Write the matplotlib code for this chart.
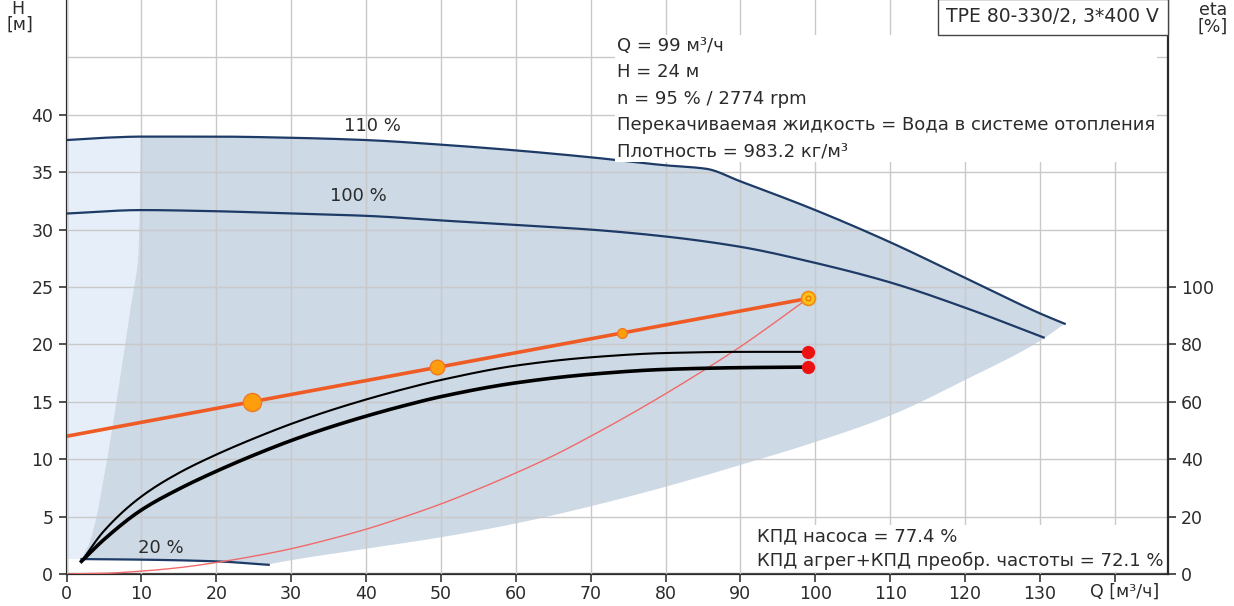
import matplotlib
matplotlib.use("Agg")
import matplotlib.pyplot as plt
import numpy as np

plt.rcParams['font.family'] = ['DejaVu Sans']

# ---- pump curve data: flow Q [m³/h], head H [m] ----
q_110 = [0, 5, 10, 20, 30, 40, 50, 60, 70, 80, 85.4, 90, 100, 110, 120, 130, 133.3]
h_110 = [37.8, 38.0, 38.1, 38.1, 38.0, 37.8, 37.4, 36.9, 36.3, 35.6, 35.3, 34.2, 31.7, 28.9, 25.8, 22.7, 21.8]

q_100 = [0, 10, 20, 30, 40, 50, 60, 70, 80, 90, 100, 110, 120, 130.5]
h_100 = [31.4, 31.7, 31.6, 31.4, 31.2, 30.8, 30.4, 30.0, 29.4, 28.5, 27.1, 25.4, 23.2, 20.6]

q_20 = [2, 10, 20, 27]
h_20 = [1.3, 1.25, 1.1, 0.8]

# operating range limits
q_minflow = [2, 3.2, 5, 6.7, 8.5, 9.6, 9.9]
h_minflow = [1.3, 3.0, 8.5, 15.2, 23.0, 28.0, 38.1]
q_lower = [27, 30, 40, 50, 60, 70, 80, 90, 100, 110, 120, 130, 133.3]
h_lower = [0.85, 1.2, 2.2, 3.2, 4.4, 5.9, 7.6, 9.5, 11.5, 13.8, 16.9, 20.3, 21.8]

# proportional-pressure control curve
q_ctrl = [0, 99]
h_ctrl = [12, 24]
q_ctrl_pts = [24.75, 49.5, 74.25]
h_ctrl_pts = [15, 18, 21]
ctrl_pt_sizes = [13, 10.5, 7]

# duty point
q_duty = 99
h_duty = 24

# system curve
q_sys = [0, 5, 10, 15, 20, 25, 30, 35, 40, 45, 50, 55, 60, 65, 70, 75, 80, 85, 90, 95, 99]
h_sys = [0, 0.06, 0.25, 0.55, 1.0, 1.55, 2.2, 3.0, 3.9, 4.95, 6.1, 7.4, 8.8, 10.3, 12.0,
         13.8, 15.7, 17.7, 19.8, 22.1, 24.0]

# efficiencies [%]
q_eta = [2, 5, 10, 15, 20, 25, 30, 35, 40, 45, 50, 60, 70, 80, 90, 99]
eta_pump = [4.4, 15, 27, 35.2, 41.6, 47.2, 52.3, 56.8, 60.8, 64.4, 67.6, 72.6, 75.5, 77.0, 77.4, 77.4]
eta_total = [4.4, 12, 22.3, 29.6, 35.8, 41.4, 46.5, 51.0, 55.0, 58.6, 61.8, 66.6, 69.6, 71.3, 71.9, 72.1]
eta_pump_duty = 77.4
eta_total_duty = 72.1

x_ticks = list(range(0, 150, 10))
x_ticklabels = [str(v) for v in range(0, 140, 10)] + [""]
h_ticks = list(range(0, 45, 5))
eta_ticks = [0, 20, 40, 60, 80, 100]

info_lines = [
    "Q = 99 м³/ч",
    "H = 24 м",
    "n = 95 % / 2774 rpm",
    "Перекачиваемая жидкость = Вода в системе отопления",
    "Плотность = 983.2 кг/м³",
]
eff_lines = [
    "КПД насоса = 77.4 %",
    "КПД агрег+КПД преобр. частоты = 72.1 %",
]
title_text = "TPE 80-330/2, 3*400 V"


def pchip(x, y, n=200):
    """Monotone cubic through the given points, sampled densely for drawing."""
    x = np.asarray(x, float)
    y = np.asarray(y, float)
    h = np.diff(x)
    delta = np.diff(y) / h
    d = np.zeros_like(y)
    d[0], d[-1] = delta[0], delta[-1]
    for k in range(1, len(x) - 1):
        if delta[k - 1] * delta[k] > 0:
            w1 = 2 * h[k] + h[k - 1]
            w2 = h[k] + 2 * h[k - 1]
            d[k] = (w1 + w2) / (w1 / delta[k - 1] + w2 / delta[k])
    xs = np.linspace(x[0], x[-1], n)
    idx = np.clip(np.searchsorted(x, xs) - 1, 0, len(x) - 2)
    t = (xs - x[idx]) / h[idx]
    h00 = 2 * t**3 - 3 * t**2 + 1
    h10 = t**3 - 2 * t**2 + t
    h01 = -2 * t**3 + 3 * t**2
    h11 = t**3 - t**2
    ys = h00 * y[idx] + h10 * h[idx] * d[idx] + h01 * y[idx + 1] + h11 * h[idx] * d[idx + 1]
    return xs, ys


# ---- colours ----
navy = "#1d3b66"
range_fill = "#cdd9e5"
light_fill = "#e6eff9"
grid_c = "#c9c9c9"
orange = "#ef5b25"
text_c = "#2b2b2b"
FS_TICK = 12.5
FS_TEXT = 13

W, H = 1234, 606
fig = plt.figure(figsize=(W / 100, H / 100), dpi=100)
ax = fig.add_axes([66.5 / W, 32 / H, 1101.5 / W, 574 / H])
ax.set_xlim(0, 147.1)
ax.set_ylim(0, 50)

x110, y110 = pchip(q_110, h_110, 400)
x100, y100 = pchip(q_100, h_100, 400)
x20, y20 = pchip(q_20, h_20, 60)
xmin, ymin = pchip(h_minflow, q_minflow, 120)[::-1]
xlow, ylow = pchip(q_lower, h_lower, 300)

# light area left of the minimum flow limit
top_l = x110 <= q_minflow[-1]
lx = np.concatenate([[0, 0], x110[top_l], xmin[::-1]])
ly = np.concatenate([[h_20[0], h_110[0]], y110[top_l], ymin[::-1]])
ax.fill(lx, ly, color=light_fill, lw=0, zorder=0.6)

# operating range
top_r = x110 >= q_minflow[-1]
rx = np.concatenate([xmin, x110[top_r], xlow[::-1], x20[::-1]])
ry = np.concatenate([ymin, y110[top_r], ylow[::-1], y20[::-1]])
ax.fill(rx, ry, color=range_fill, lw=0, zorder=0.7)

ax.grid(True, color=grid_c, lw=1.0)
ax.set_axisbelow(False)
for gl in ax.get_xgridlines() + ax.get_ygridlines():
    gl.set_zorder(1.0)
ax.axhline(45, color=grid_c, lw=1.0, zorder=1.0)

ax.plot(x110, y110, color=navy, lw=1.6, zorder=3)
ax.plot(x100, y100, color=navy, lw=1.6, zorder=3)
ax.plot(x20, y20, color=navy, lw=1.6, zorder=3)

xs_sys, ys_sys = pchip(q_sys, h_sys, 300)
ax.plot(xs_sys, ys_sys, color="#f06a6a", lw=1.0, zorder=3)

ax.plot(q_ctrl, h_ctrl, color=orange, lw=2.6, zorder=4)
for qp, hp, s in zip(q_ctrl_pts, h_ctrl_pts, ctrl_pt_sizes):
    ax.plot(qp, hp, "o", ms=s, mfc="#ff9e0d", mec="#f07a20", mew=1.0, zorder=5)
ax.plot(q_duty, h_duty, "o", ms=10, mfc="#ffbf1a", mec="#f08a10", mew=1.2, zorder=5)
ax.plot(q_duty, h_duty, "o", ms=3.5, mfc="none", mec="#e07000", mew=0.8, zorder=6)

ax.text(40.8, 39.0, "110 %", fontsize=FS_TEXT, color=text_c, ha="center", va="center", zorder=6)
ax.text(39.0, 32.9, "100 %", fontsize=FS_TEXT, color=text_c, ha="center", va="center", zorder=6)
ax.text(12.6, 2.3, "20 %", fontsize=FS_TEXT, color=text_c, ha="center", va="center", zorder=6)

ax.set_xticks(x_ticks)
ax.set_xticklabels(x_ticklabels)
ax.set_yticks(h_ticks)
ax.tick_params(axis="both", direction="out", length=6, width=1.2, colors="#333333",
               labelsize=FS_TICK, labelcolor=text_c)
ax.tick_params(axis="x", pad=2)
for side in ["left", "bottom"]:
    ax.spines[side].set_color("#2a2a2a")
    ax.spines[side].set_linewidth(1.6)
ax.spines["top"].set_visible(False)
ax.spines["right"].set_visible(False)

# efficiency axis
ax2 = ax.twinx()
ax2.set_ylim(0, 200)
ax2.set_yticks(eta_ticks)
ax2.tick_params(axis="y", direction="out", length=6, width=1.2, colors="#333333",
                labelsize=FS_TICK, labelcolor=text_c)
ax2.spines["right"].set_color("#2a2a2a")
ax2.spines["right"].set_linewidth(1.6)
for side in ["left", "bottom", "top"]:
    ax2.spines[side].set_visible(False)
ax2.patch.set_visible(False)

xe, ye_p = pchip(q_eta, eta_pump, 300)
_, ye_t = pchip(q_eta, eta_total, 300)
ax2.plot(xe, ye_p, color="black", lw=1.5, zorder=3)
ax2.plot(xe, ye_t, color="black", lw=2.6, zorder=3)
ax2.plot(q_duty, eta_pump_duty, "o", ms=8.5, color="#ee1111", zorder=5)
ax2.plot(q_duty, eta_total_duty, "o", ms=8.5, color="#ee1111", zorder=5)

# text blocks (positions in H units, converted to the eta scale of ax2)
ax2.text(73.5, 46.8 * 4, "\n".join(info_lines),
         fontsize=FS_TEXT, color=text_c, ha="left", va="top", linespacing=1.6, zorder=7,
         bbox=dict(boxstyle="square,pad=0.1", fc="white", ec="none"))
ax2.text(92.2, 4.1 * 4, "\n".join(eff_lines), fontsize=FS_TEXT, color=text_c,
         ha="left", va="top", linespacing=1.48, zorder=7,
         bbox=dict(boxstyle="square,pad=0.1", fc="white", ec="none"))
ax2.text(131.7, 48.54 * 4, title_text, fontsize=13.5, color=text_c,
         ha="center", va="center", zorder=8,
         bbox=dict(boxstyle="square,pad=0.45", fc="white", ec="#444444", lw=1.0))

ax2.text(141.3, -1.55 * 4, "Q [м³/ч]", fontsize=FS_TICK, color=text_c, ha="center",
         va="center", clip_on=False)

fig.text(18 / W, 1 - 9 / H, "H", fontsize=FS_TICK, color=text_c, ha="center", va="center")
fig.text(20 / W, 1 - 25 / H, "[м]", fontsize=FS_TICK, color=text_c, ha="center", va="center")
fig.text(1213 / W, 1 - 10 / H, "eta", fontsize=FS_TICK, color=text_c, ha="center", va="center")
fig.text(1213 / W, 1 - 27 / H, "[%]", fontsize=FS_TICK, color=text_c, ha="center", va="center")

fig.savefig("out.png", dpi=100)
